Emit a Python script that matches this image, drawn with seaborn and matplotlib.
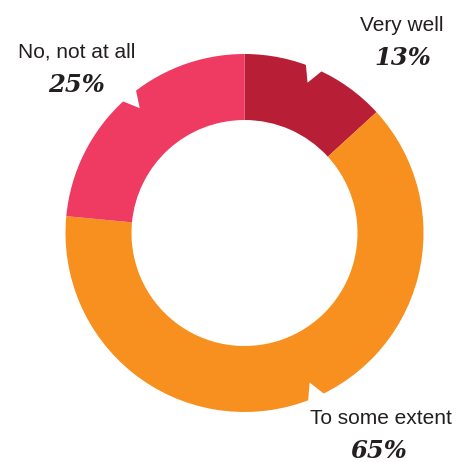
import numpy as np
import matplotlib
matplotlib.use("Agg")
import matplotlib.pyplot as plt
import seaborn as sns
from matplotlib.patches import Polygon

# ---- data ----
categories = ["Very well", "To some extent", "No, not at all"]
slice_sizes = [13.2, 63.3, 23.5]   # slice extents as drawn in the picture
pct_labels = ["13%", "65%", "25%"]
colors = ["#B81F36", "#F7901E", "#EF3A62"]

sns.set_theme(style="white")
palette = sns.color_palette(colors)

W, H = 464, 462
fig = plt.figure(figsize=(W / 100, H / 100), dpi=100)
ax = fig.add_axes([0, 0, 1, 1])

cx, cy = 244.5, H - 233
R, r_in = 179, 113

wedges, _ = ax.pie(slice_sizes, colors=palette, startangle=90, counterclock=False,
                   radius=R, center=(cx, cy),
                   wedgeprops=dict(width=R - r_in, linewidth=0))

# decorative notches near the middle of each slice (style offsets in degrees)
notch_offset = [1.0, 5.0, -2.3]
depth = 16
half = 3.0
for w, off in zip(wedges, notch_offset):
    mid = np.deg2rad((w.theta1 + w.theta2) / 2 + off)
    a1 = mid - np.deg2rad(half)
    a2 = mid + np.deg2rad(half)
    ro = R + 2
    pts = [(cx + ro * np.cos(a1), cy + ro * np.sin(a1)),
           (cx + (R - depth) * np.cos(mid), cy + (R - depth) * np.sin(mid)),
           (cx + ro * np.cos(a2), cy + ro * np.sin(a2))]
    ax.add_patch(Polygon(pts, closed=True, facecolor="white", edgecolor="none", zorder=5))

ax.set_xlim(0, W)
ax.set_ylim(0, H)
ax.set_aspect("equal")
ax.axis("off")

txt_color = "#231F20"
name_pos = [(402, 31), (380.5, 424), (77, 58)]
pct_pos = [(402.5, 65), (379, 458), (77, 92.5)]
for name, pct, (nx, ny), (px, py) in zip(categories, pct_labels, name_pos, pct_pos):
    ax.text(nx, H - ny, name, ha="center", va="baseline", fontsize=15,
            family="Liberation Sans", color=txt_color)
    ax.text(px, H - py, pct, ha="center", va="baseline", fontsize=17.5,
            family="DejaVu Serif", fontweight="bold", fontstyle="italic", color=txt_color)

fig.savefig("out.png", dpi=100)
